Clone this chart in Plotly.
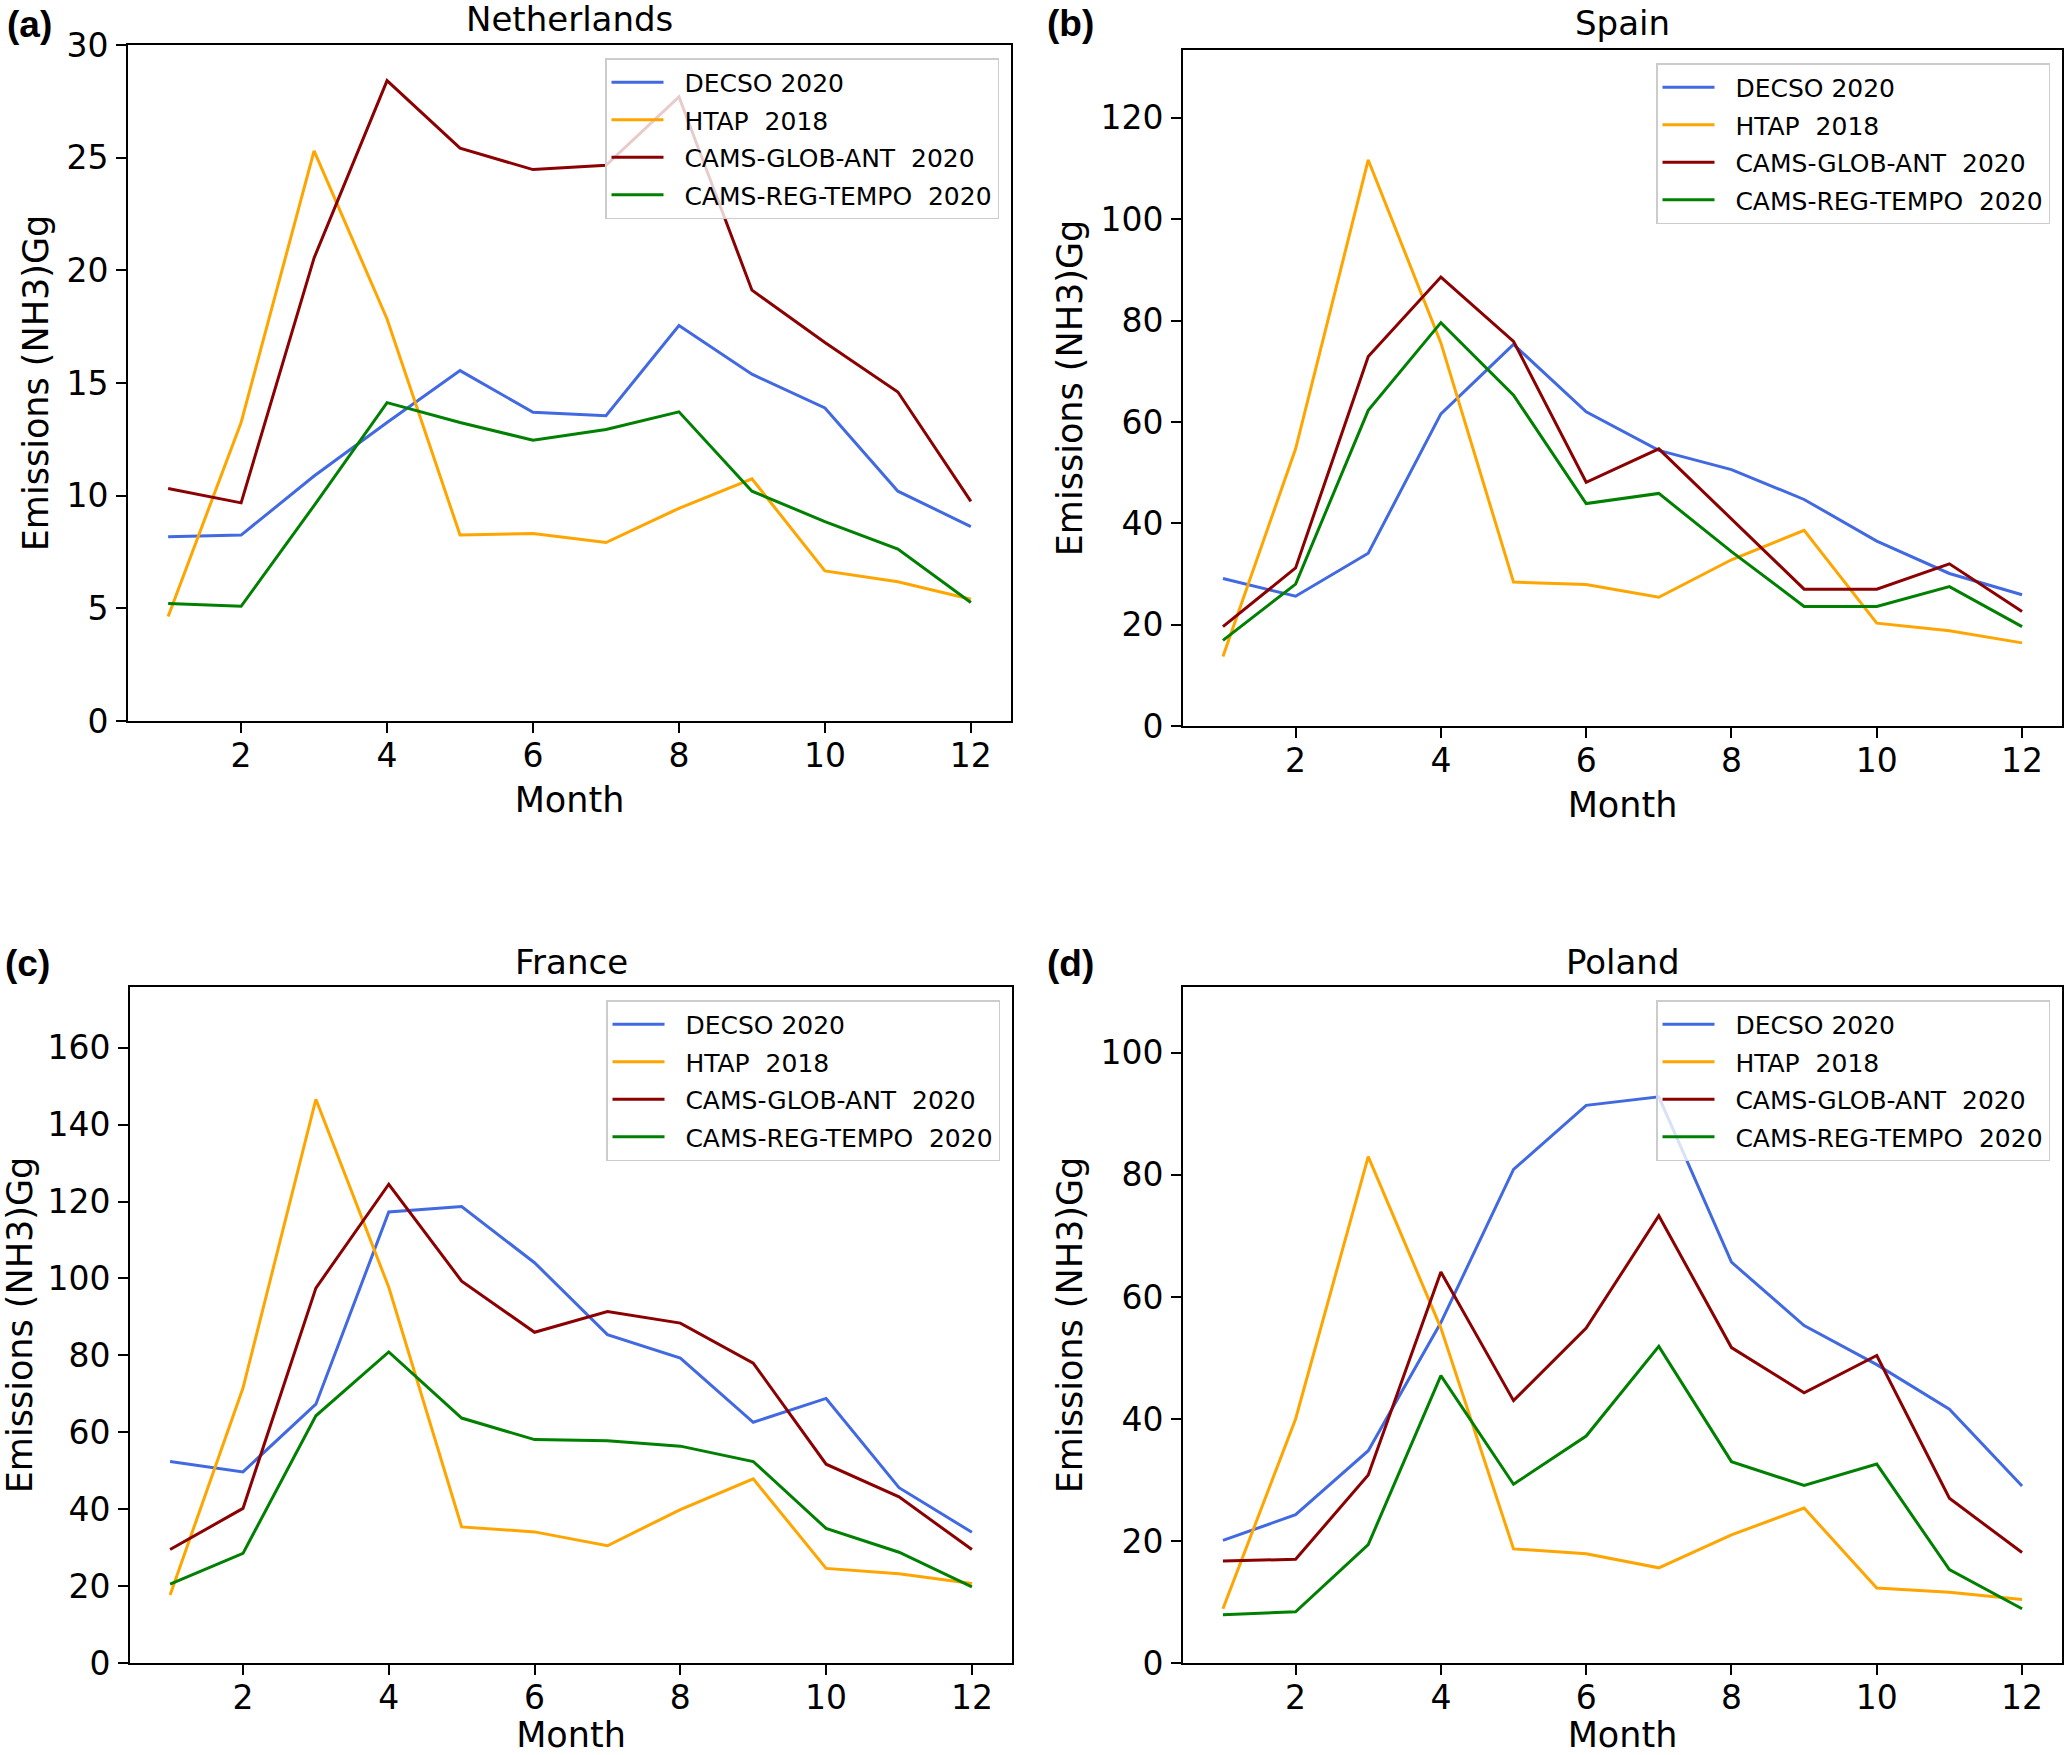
import plotly.graph_objects as go

months = [1, 2, 3, 4, 5, 6, 7, 8, 9, 10, 11, 12]
series_names = ["DECSO 2020", "HTAP\u00a0 2018", "CAMS-GLOB-ANT\u00a0 2020", "CAMS-REG-TEMPO\u00a0 2020"]
series_colors = ["#4169E1", "#FFA500", "#8B0000", "#008000"]

countries = ["Netherlands", "Spain", "France", "Poland"]
panel_labels = ["(a)", "(b)", "(c)", "(d)"]

# Netherlands
nl_decso = [8.18, 8.25, 10.87, 13.25, 15.55, 13.7, 13.55, 17.55, 15.39, 13.89, 10.2, 8.63]
nl_htap = [4.64, 13.25, 25.3, 17.84, 8.25, 8.32, 7.92, 9.44, 10.75, 6.66, 6.18, 5.4]
nl_glob = [10.32, 9.68, 20.55, 28.42, 25.42, 24.47, 24.66, 27.7, 19.12, 16.8, 14.6, 9.75]
nl_reg = [5.21, 5.09, 9.56, 14.13, 13.25, 12.46, 12.94, 13.72, 10.2, 8.85, 7.63, 5.26]

# Spain
es_decso = [29.1, 25.6, 34.1, 61.6, 75.3, 62.0, 54.4, 50.6, 44.7, 36.5, 30.1, 25.9]
es_htap = [13.7, 54.7, 111.7, 75.6, 28.4, 27.9, 25.4, 32.8, 38.6, 20.3, 18.8, 16.4]
es_glob = [19.6, 31.2, 72.9, 88.6, 75.9, 48.1, 54.7, 40.9, 27.0, 27.0, 32.0, 22.6]
es_reg = [16.9, 28.0, 62.3, 79.6, 65.3, 43.9, 45.9, 34.4, 23.6, 23.6, 27.5, 19.6]

# France
fr_decso = [52.4, 49.7, 67.3, 117.3, 118.7, 104.1, 85.4, 79.3, 62.6, 68.8, 45.6, 34.0]
fr_htap = [17.7, 71.5, 146.6, 97.7, 35.4, 34.1, 30.5, 39.9, 47.9, 24.6, 23.2, 20.7]
fr_glob = [29.5, 40.2, 97.5, 124.5, 99.3, 86.0, 91.4, 88.4, 78.0, 51.7, 43.2, 29.5]
fr_reg = [20.5, 28.5, 64.3, 80.9, 63.7, 58.1, 57.8, 56.4, 52.4, 35.0, 28.8, 19.8]

# Poland
pl_decso = [20.1, 24.3, 34.8, 55.8, 80.9, 91.4, 92.8, 65.7, 55.3, 48.9, 41.6, 29.0]
pl_htap = [8.9, 40.0, 83.0, 54.9, 18.7, 17.9, 15.6, 21.0, 25.4, 12.3, 11.6, 10.4]
pl_glob = [16.7, 17.0, 30.8, 64.1, 43.0, 54.9, 73.3, 51.7, 44.3, 50.4, 27.0, 18.1]
pl_reg = [7.9, 8.4, 19.4, 47.1, 29.3, 37.2, 51.9, 33.0, 29.1, 32.6, 15.3, 8.9]

panel_data = [
    [nl_decso, nl_htap, nl_glob, nl_reg],
    [es_decso, es_htap, es_glob, es_reg],
    [fr_decso, fr_htap, fr_glob, fr_reg],
    [pl_decso, pl_htap, pl_glob, pl_reg],
]
y_max = [30, 133.4, 175.8, 110.8]
y_dtick = [5, 20, 20, 20]

W, H = 2067, 1755
FONT = "DejaVu Sans"


def px(xp):
    return xp / W


def py(yp):
    return 1 - yp / H


# pixel boxes (left, right, top, bottom)
boxes = [
    (128, 1011, 45, 721),
    (1183, 2062, 50, 726),
    (130, 1012, 987, 1663),
    (1183, 2062, 987, 1663),
]
title_y = [19, 23, 962, 962]
label_pos = [(5, 25), (1045, 23), (3, 963), (1045, 963)]

fig = go.Figure()
annotations = []
layout_axes = {}

for i in range(4):
    l, r, t, b = boxes[i]
    xa = "x" if i == 0 else f"x{i+1}"
    ya = "y" if i == 0 else f"y{i+1}"
    lg = "legend" if i == 0 else f"legend{i+1}"
    for k in range(4):
        fig.add_trace(go.Scatter(
            x=months, y=panel_data[i][k], mode="lines",
            name="\u00a0\u00a0" + series_names[k],
            line=dict(color=series_colors[k], width=3),
            xaxis=xa, yaxis=ya, legend=lg,
            legendgroup=f"g{i}_{k}",
        ))
    axis_common = dict(
        showline=True, linecolor="black", linewidth=1.8, mirror=True,
        ticks="outside", ticklen=10, tickwidth=1.6, tickcolor="black",
        showgrid=False, zeroline=False, automargin=False,
        tickfont=dict(family=FONT, size=33, color="black"),
    )
    xname = "xaxis" if i == 0 else f"xaxis{i+1}"
    yname = "yaxis" if i == 0 else f"yaxis{i+1}"
    layout_axes[xname] = dict(
        axis_common, domain=[px(l), px(r)], anchor=ya,
        range=[0.45, 12.55], tick0=0, dtick=2, ticklabelstandoff=-6,
        title=dict(text="Month", font=dict(family=FONT, size=35, color="black"), standoff=14),
    )
    layout_axes[yname] = dict(
        axis_common, domain=[py(b), py(t)], anchor=xa,
        range=[0, y_max[i]], tick0=0, dtick=y_dtick[i], ticklabelstandoff=1,
        title=dict(text="Emissions (NH3)Gg", font=dict(family=FONT, size=35, color="black"), standoff=7),
    )
    layout_axes[lg] = dict(
        x=px(r - 12), y=py(t + 13), xanchor="right", yanchor="top",
        bgcolor="rgba(255,255,255,0.8)", bordercolor="#cccccc", borderwidth=1.5,
        font=dict(family=FONT, size=25, color="black"),
        tracegroupgap=2, itemwidth=52,
    )
    annotations.append(dict(
        text=countries[i], x=px((l + r) / 2), y=py(title_y[i]),
        xref="paper", yref="paper", xanchor="center", yanchor="middle",
        showarrow=False, font=dict(family=FONT, size=34, color="black"),
    ))
    annotations.append(dict(
        text=f"<b>{panel_labels[i]}</b>", x=px(label_pos[i][0]), y=py(label_pos[i][1]),
        xref="paper", yref="paper", xanchor="left", yanchor="middle",
        showarrow=False, font=dict(family="Liberation Sans", size=37, color="black"),
    ))

fig.update_layout(
    width=W, height=H,
    margin=dict(l=0, r=0, t=0, b=0, autoexpand=False),
    paper_bgcolor="white", plot_bgcolor="white",
    font=dict(family=FONT, color="black"),
    annotations=annotations,
    **layout_axes,
)

fig.write_html(
    "out.html",
    config={"displayModeBar": False},
    post_script="document.body.style.margin='0';",
)
